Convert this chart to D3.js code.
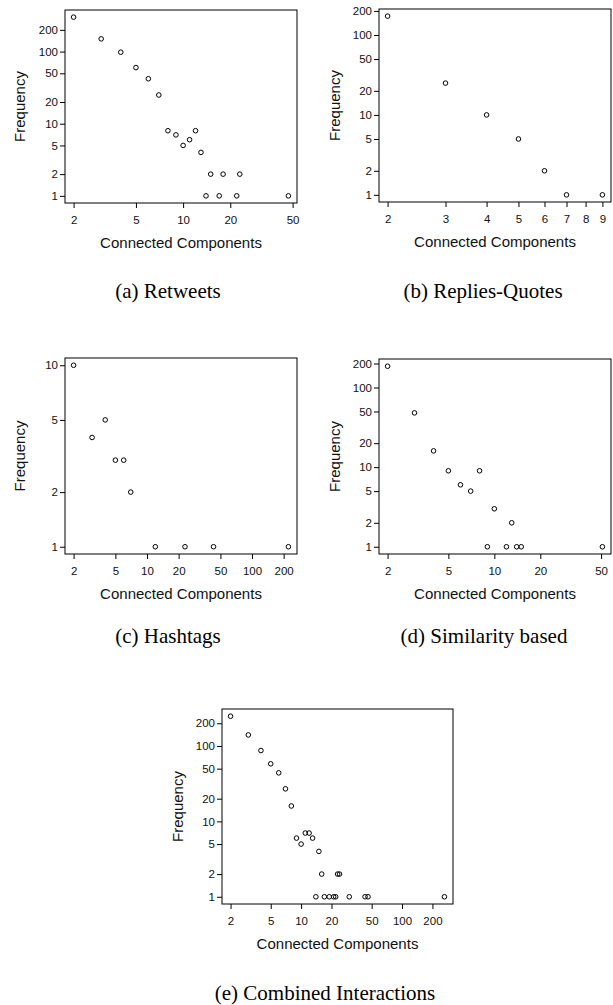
<!DOCTYPE html>
<html>
<head>
<meta charset="utf-8">
<script src="https://cdn.jsdelivr.net/npm/d3@7"></script>
<style>
  body { margin: 0; background: #fff; }
</style>
</head>
<body>
<svg id="fig" width="613" height="1005"></svg>
<script>
// values
const retweetsSize = [2, 3, 4, 5, 6, 7, 8, 9, 10, 11, 12, 13, 14, 15, 17, 18, 22, 23, 47];
const retweetsFreq = [300, 150, 98, 60, 42, 25, 8, 7, 5, 6, 8, 4, 1, 2, 1, 2, 1, 2, 1];

const repliesSize = [2, 3, 4, 5, 6, 7, 9];
const repliesFreq = [172, 25, 10, 5, 2, 1, 1];

const hashtagsSize = [2, 3, 4, 5, 6, 7, 12, 23, 43, 222];
const hashtagsFreq = [10, 4, 5, 3, 3, 2, 1, 1, 1, 1];

const similaritySize = [2, 3, 4, 5, 6, 7, 8, 9, 10, 12, 13, 14, 15, 51];
const similarityFreq = [185, 48, 16, 9, 6, 5, 9, 1, 3, 1, 2, 1, 1, 1];

const combinedSize = [2, 3, 4, 5, 6, 7, 8, 9, 10, 11, 12, 13, 14, 15, 16, 17, 19, 21, 22, 23, 24, 30, 43, 46, 263];
const combinedFreq = [248, 140, 87, 58, 44, 27, 16, 6, 5, 7, 7, 6, 1, 4, 2, 1, 1, 1, 1, 2, 2, 1, 1, 1, 1];

const ticksFreqWide = [1, 2, 5, 10, 20, 50, 100, 200];
const ticksFreqSmall = [1, 2, 5, 10];
const ticksSizeA = [2, 5, 10, 20, 50];
const ticksSizeB = [2, 3, 4, 5, 6, 7, 8, 9];
const ticksSizeC = [2, 5, 10, 20, 50, 100, 200];

const captions = ["(a) Retweets", "(b) Replies-Quotes", "(c) Hashtags", "(d) Similarity based", "(e) Combined Interactions"];

const xTitle = "Connected Components";
const yTitle = "Frequency";

// layout of each panel (plot box + caption centre)
const panels = [
  { x: retweetsSize, y: retweetsFreq, xt: ticksSizeA, yt: ticksFreqWide,
    box: [65, 10, 297, 203], ylab: 20, cap: [168, 298] },
  { x: repliesSize, y: repliesFreq, xt: ticksSizeB, yt: ticksFreqWide,
    box: [379, 9, 611, 202], ylab: 335, cap: [483, 298] },
  { x: hashtagsSize, y: hashtagsFreq, xt: ticksSizeC, yt: ticksFreqSmall,
    box: [65, 358, 297, 554], ylab: 20, cap: [168, 643] },
  { x: similaritySize, y: similarityFreq, xt: ticksSizeA, yt: ticksFreqWide,
    box: [379, 359, 611, 554], ylab: 335, cap: [484, 643] },
  { x: combinedSize, y: combinedFreq, xt: ticksSizeC, yt: ticksFreqWide,
    box: [222, 709, 453, 904], ylab: 178, cap: [325, 1000] }
];

const svg = d3.select("#fig");

// R pads a log axis by 4% of the data range on each side
function rDomain(vals) {
  let lo = Math.log10(d3.min(vals)), hi = Math.log10(d3.max(vals));
  let pad = (hi - lo) * 0.04;
  return [Math.pow(10, lo - pad), Math.pow(10, hi + pad)];
}

panels.forEach(function(p, i) {
  let [x0, y0, x1, y1] = p.box;
  let x = d3.scaleLog().domain(rDomain(p.x)).range([x0, x1]);
  let y = d3.scaleLog().domain(rDomain(p.y)).range([y1, y0]);
  let g = svg.append("g");

  // x axis
  let ax = g.append("g")
    .attr("transform", "translate(0," + y1 + ")")
    .call(d3.axisBottom(x).tickValues(p.xt).tickFormat(d3.format("d")).tickSize(5).tickPadding(8));
  // y axis
  let ay = g.append("g")
    .attr("transform", "translate(" + x0 + ",0)")
    .call(d3.axisLeft(y).tickValues(p.yt).tickFormat(d3.format("d")).tickSize(5).tickPadding(2));

  [ax, ay].forEach(function(a) {
    a.select(".domain").remove();
    a.selectAll("line").attr("stroke", "#000");
    a.selectAll("text")
      .attr("fill", "#111")
      .style("font-family", "'Liberation Sans', Arial, sans-serif")
      .style("font-size", "11.5px");
  });

  // box
  g.append("rect")
    .attr("x", x0).attr("y", y0)
    .attr("width", x1 - x0).attr("height", y1 - y0)
    .attr("fill", "none").attr("stroke", "#000").attr("stroke-width", 1);

  // points
  g.selectAll("circle")
    .data(p.x.map((v, k) => [v, p.y[k]]))
    .enter().append("circle")
    .attr("cx", d => x(d[0]))
    .attr("cy", d => y(d[1]))
    .attr("r", 2.3)
    .attr("fill", "none")
    .attr("stroke", "#000")
    .attr("stroke-width", 1);

  // titles
  g.append("text")
    .attr("x", (x0 + x1) / 2).attr("y", y1 + 45)
    .attr("text-anchor", "middle")
    .style("font-family", "'Liberation Sans', Arial, sans-serif")
    .style("font-size", "15px")
    .attr("fill", "#111")
    .text(xTitle);

  g.append("text")
    .attr("transform", "translate(" + p.ylab + "," + (y0 + y1) / 2 + ") rotate(-90)")
    .attr("dy", "0.35em")
    .attr("text-anchor", "middle")
    .style("font-family", "'Liberation Sans', Arial, sans-serif")
    .style("font-size", "15px")
    .attr("fill", "#111")
    .text(yTitle);

  // caption
  svg.append("text")
    .attr("x", p.cap[0]).attr("y", p.cap[1])
    .attr("text-anchor", "middle")
    .style("font-family", "'Liberation Serif', 'Times New Roman', serif")
    .style("font-size", "21px")
    .attr("fill", "#000")
    .text(captions[i]);
});
</script>
</body>
</html>
